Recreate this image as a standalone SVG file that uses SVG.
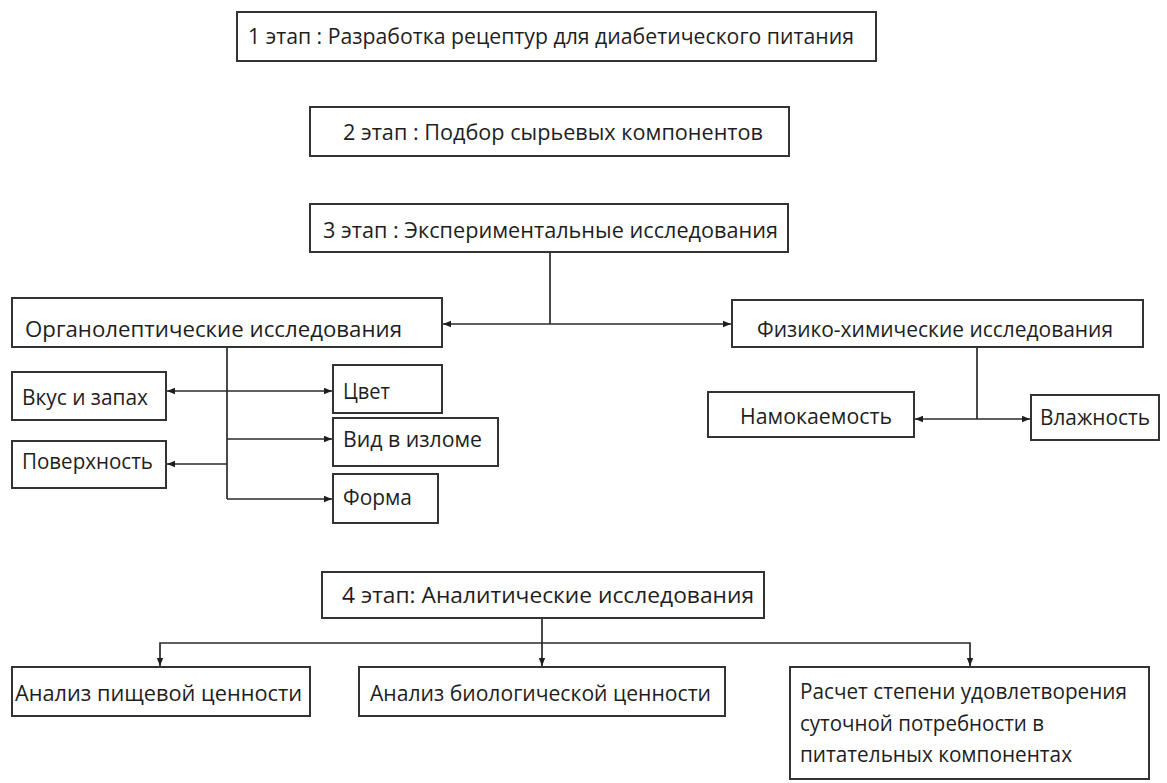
<svg xmlns="http://www.w3.org/2000/svg" width="1167" height="783" viewBox="0 0 1167 783">
<defs>
<style>
.box{fill:#fff;stroke:#333;stroke-width:2}
.t{font-family:"Open Sans","Noto Sans","DejaVu Sans",sans-serif;font-size:22px;fill:#1e1e1e}
.c{fill:none;stroke:#2a2a2a;stroke-width:1.7}
</style>
<marker id="ah" viewBox="0 0 10 10" refX="10" refY="5" markerWidth="8" markerHeight="8" markerUnits="userSpaceOnUse" orient="auto-start-reverse">
<path d="M0,1 L10,5 L0,9 z" fill="#1e1e1e"/>
</marker>
</defs>
<rect width="1167" height="783" fill="#fff"/>
<g id="connectors">
<path class="c" d="M550,252 V324"/>
<path class="c" d="M443,324 H731" marker-start="url(#ah)" marker-end="url(#ah)"/>
<path class="c" d="M227,347 V499"/>
<path class="c" d="M167,391 H332" marker-start="url(#ah)" marker-end="url(#ah)"/>
<path class="c" d="M227,439 H332" marker-end="url(#ah)"/>
<path class="c" d="M227,464 H167" marker-end="url(#ah)"/>
<path class="c" d="M227,499 H332" marker-end="url(#ah)"/>
<path class="c" d="M977,347 V419"/>
<path class="c" d="M915,419 H1030" marker-start="url(#ah)" marker-end="url(#ah)"/>
<path class="c" d="M542,618 V666" marker-end="url(#ah)"/>
<path class="c" d="M160,666 V643 H970 V666" marker-start="url(#ah)" marker-end="url(#ah)"/>
</g>
<g id="n1"><rect class="box" x="237" y="12" width="639" height="49"/><text class="t" x="248" y="44" textLength="606" lengthAdjust="spacingAndGlyphs">1 этап : Разработка рецептур для диабетического питания</text></g>
<g id="n2"><rect class="box" x="310" y="107" width="479" height="49"/><text class="t" x="343" y="140" textLength="420" lengthAdjust="spacingAndGlyphs">2 этап : Подбор сырьевых компонентов</text></g>
<g id="n3"><rect class="box" x="310" y="204" width="478" height="48"/><text class="t" x="323" y="238" textLength="455" lengthAdjust="spacingAndGlyphs">3 этап : Экспериментальные исследования</text></g>
<g id="n_org"><rect class="box" x="12" y="298" width="430" height="49"/><text class="t" x="25" y="337" textLength="377" lengthAdjust="spacingAndGlyphs">Органолептические исследования</text></g>
<g id="n_phys"><rect class="box" x="732" y="300" width="411" height="47"/><text class="t" x="757" y="337" textLength="356" lengthAdjust="spacingAndGlyphs">Физико-химические исследования</text></g>
<g id="n_taste"><rect class="box" x="12" y="372" width="154" height="48"/><text class="t" x="22" y="405" textLength="126" lengthAdjust="spacingAndGlyphs">Вкус и запах</text></g>
<g id="n_color"><rect class="box" x="333" y="365" width="109" height="48"/><text class="t" x="343" y="399" textLength="47" lengthAdjust="spacingAndGlyphs">Цвет</text></g>
<g id="n_break"><rect class="box" x="333" y="418" width="165" height="48"/><text class="t" x="343" y="447" textLength="139" lengthAdjust="spacingAndGlyphs">Вид в изломе</text></g>
<g id="n_surface"><rect class="box" x="12" y="441" width="154" height="47"/><text class="t" x="22" y="469" textLength="131" lengthAdjust="spacingAndGlyphs">Поверхность</text></g>
<g id="n_shape"><rect class="box" x="333" y="474" width="105" height="49"/><text class="t" x="343" y="505" textLength="69" lengthAdjust="spacingAndGlyphs">Форма</text></g>
<g id="n_wet"><rect class="box" x="708" y="392" width="206" height="45"/><text class="t" x="740" y="424" textLength="152" lengthAdjust="spacingAndGlyphs">Намокаемость</text></g>
<g id="n_moist"><rect class="box" x="1031" y="395" width="128" height="45"/><text class="t" x="1040" y="425" textLength="110" lengthAdjust="spacingAndGlyphs">Влажность</text></g>
<g id="n4"><rect class="box" x="322" y="572" width="442" height="46"/><text class="t" x="342" y="603" textLength="412" lengthAdjust="spacingAndGlyphs">4 этап: Аналитические исследования</text></g>
<g id="n_food"><rect class="box" x="12" y="667" width="298" height="49"/><text class="t" x="15" y="701" textLength="287" lengthAdjust="spacingAndGlyphs">Анализ пищевой ценности</text></g>
<g id="n_bio"><rect class="box" x="359" y="667" width="366" height="49"/><text class="t" x="370" y="701" textLength="341" lengthAdjust="spacingAndGlyphs">Анализ биологической ценности</text></g>
<g id="n_calc"><rect class="box" x="790" y="667" width="359" height="112"/>
<text class="t" x="800" y="699" textLength="327" lengthAdjust="spacingAndGlyphs">Расчет степени удовлетворения</text>
<text class="t" x="800" y="731" textLength="244" lengthAdjust="spacingAndGlyphs">суточной потребности в</text>
<text class="t" x="800" y="762" textLength="272" lengthAdjust="spacingAndGlyphs">питательных компонентах</text></g>
</svg>
